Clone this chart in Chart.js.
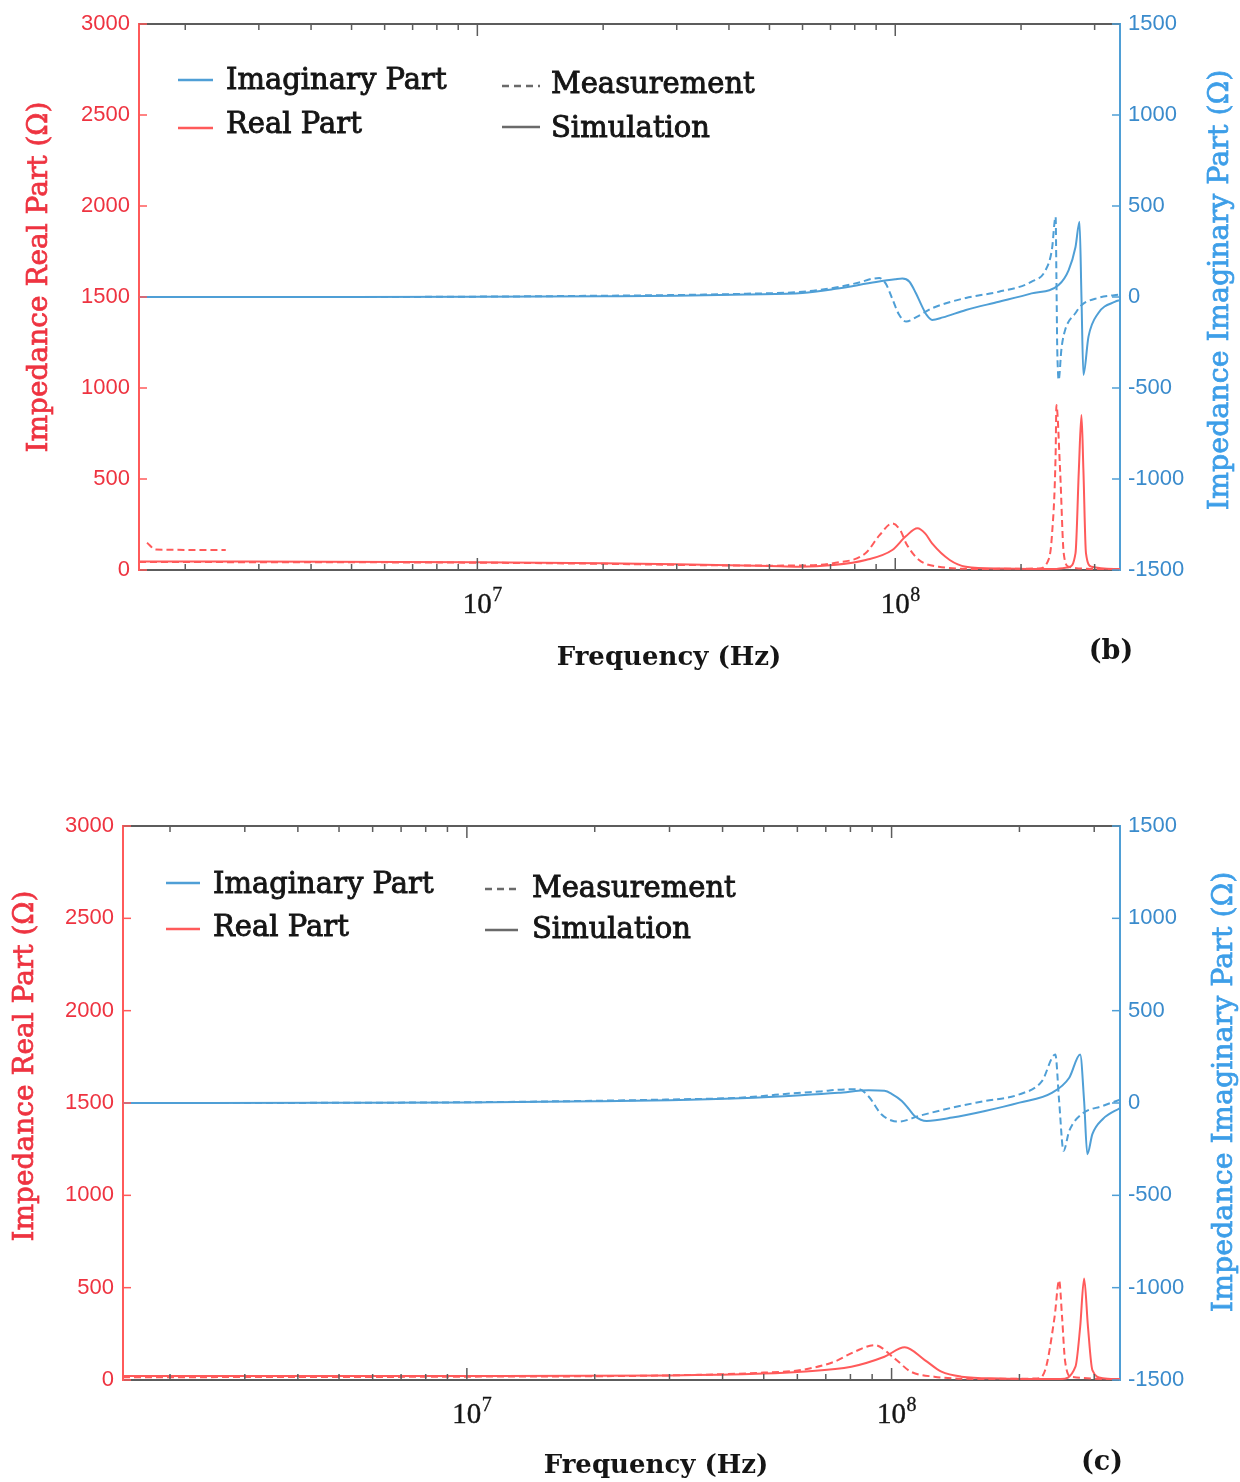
<!DOCTYPE html>
<html>
<head>
<meta charset="utf-8">
<script src="https://cdn.jsdelivr.net/npm/chart.js@4.4.1/dist/chart.umd.min.js"></script>
<style>
  html, body { margin: 0; padding: 0; background: #fff; }
  body { width: 1240px; height: 1482px; position: relative; overflow: hidden; }
  .panel { position: absolute; left: 0; }
  #panelB { top: 0; }
  #panelC { top: 800px; }
</style>
</head>
<body>
<div class="panel" id="panelB"><canvas id="chartB" width="1240" height="700"></canvas></div>
<div class="panel" id="panelC"><canvas id="chartC" width="1240" height="682"></canvas></div>
<script>
// ── Axes ──
const FREQ_MIN = 1.55e6;
const FREQ_MAX = 3.45e8;
const FREQ_TICKS = [2e6, 3e6, 4e6, 5e6, 6e6, 7e6, 8e6, 9e6, 1e7,
                    2e7, 3e7, 4e7, 5e7, 6e7, 7e7, 8e7, 9e7, 1e8, 2e8, 3e8];
const DECADES = [1e7, 1e8];
const DECADE_EXPONENTS = ['7', '8'];
const REAL_TICKS = [0, 500, 1000, 1500, 2000, 2500, 3000];
const IMAG_TICKS = [-1500, -1000, -500, 0, 500, 1000, 1500];

// ── Panel (b): [frequency Hz, ohms] ──
const bImagMeas = [[1.55e6, 0], [5e6, 0], [1e7, 2], [2e7, 7], [3e7, 11], [4.4e7, 18], [6e7, 29],
  [7.2e7, 52], [8.2e7, 80], [8.8e7, 100], [9.16e7, 104], [9.5e7, 72], [9.84e7, -10], [1.02e8, -95],
  [1.062e8, -135], [1.12e8, -112], [1.225e8, -62], [1.476e8, -5], [1.77e8, 29], [2.12e8, 84],
  [2.29e8, 148], [2.37e8, 258], [2.42e8, 441], [2.43e8, 120], [2.435e8, -60], [2.44e8, -250],
  [2.45e8, -400], [2.46e8, -456], [2.5e8, -280], [2.55e8, -181], [2.7e8, -88], [2.79e8, -45],
  [3.06e8, -5], [3.45e8, 14]];
const bImagSim = [[1.55e6, 0], [5e6, 0], [1e7, 1], [2e7, 4], [3e7, 7], [4.4e7, 14], [6e7, 22],
  [7.2e7, 45], [9e7, 82], [1e8, 97], [1.04e8, 101], [1.08e8, 85], [1.12e8, 22], [1.16e8, -53],
  [1.19e8, -100], [1.225e8, -126], [1.3e8, -112], [1.476e8, -71], [1.77e8, -26], [2.12e8, 20],
  [2.46e8, 66], [2.6e8, 148], [2.7e8, 275], [2.76e8, 414], [2.79e8, 0], [2.82e8, -428],
  [2.9e8, -218], [3.06e8, -89], [3.36e8, -26], [3.45e8, -17]];
const bRealMeas = [[1.55e6, 44], [1e7, 40], [2e7, 34], [3e7, 28], [5e7, 24], [6e7, 25], [7.1e7, 37],
  [8.5e7, 93], [9.16e7, 190], [9.84e7, 256], [1.03e8, 215], [1.062e8, 146], [1.14e8, 55],
  [1.27e8, 18], [1.6e8, 6], [2.2e8, 8], [2.33e8, 60], [2.37e8, 183], [2.42e8, 641], [2.43e8, 906],
  [2.48e8, 549], [2.53e8, 93], [2.6e8, 18], [3e8, 6], [3.45e8, 5]];
const bRealMeasLow = [[1.62e6, 150], [1.7e6, 112], [2.5e6, 110]];
const bRealSim = [[1.55e6, 47], [1e7, 43], [2e7, 37], [3e7, 32], [5e7, 22], [5.9e7, 18], [7.1e7, 27],
  [8.5e7, 55], [9.84e7, 110], [1.06e8, 185], [1.13e8, 229], [1.18e8, 200], [1.225e8, 146],
  [1.35e8, 55], [1.476e8, 18], [1.8e8, 8], [2.4e8, 5], [2.6e8, 15], [2.7e8, 93], [2.75e8, 549],
  [2.79e8, 852], [2.82e8, 549], [2.86e8, 93], [2.95e8, 18], [3.45e8, 5]];

// ── Panel (c) ──
const cImagMeas = [[1.55e6, 0], [5e6, 1], [1e7, 4], [2e7, 12], [3e7, 19], [4.4e7, 29], [6.12e7, 56],
  [6.76e7, 62], [7.5e7, 72], [8.36e7, 75], [8.83e7, 35], [9.46e7, -61], [1.0e8, -95], [1.04e8, -101],
  [1.16e8, -70], [1.39e8, -25], [1.66e8, 11], [2.0e8, 47], [2.26e8, 119], [2.43e8, 263],
  [2.48e8, 11], [2.54e8, -259], [2.62e8, -151], [2.8e8, -61], [3.14e8, -16], [3.45e8, 18]];
const cImagSim = [[1.55e6, 0], [5e6, 1], [1e7, 3], [2e7, 9], [3e7, 15], [4.4e7, 26], [6.12e7, 42],
  [7.5e7, 55], [8.83e7, 69], [9.62e7, 66], [1.0e8, 50], [1.057e8, 11], [1.1e8, -35], [1.133e8, -70],
  [1.21e8, -97], [1.39e8, -79], [1.66e8, -43], [2.0e8, 2], [2.39e8, 56], [2.62e8, 137],
  [2.78e8, 263], [2.84e8, 11], [2.89e8, -277], [2.97e8, -169], [3.14e8, -88], [3.45e8, -27]];
const cRealMeas = [[1.55e6, 15], [1e7, 18], [3e7, 25], [5e7, 40], [6.12e7, 54], [7.33e7, 99],
  [8.18e7, 153], [9.12e7, 189], [1.016e8, 117], [1.11e8, 45], [1.26e8, 18], [1.6e8, 6], [2.2e8, 8],
  [2.3e8, 54], [2.42e8, 342], [2.48e8, 540], [2.52e8, 342], [2.56e8, 108], [2.65e8, 18], [3.45e8, 5]];
const cRealSim = [[1.55e6, 22], [1e7, 22], [3e7, 25], [5e7, 35], [6.12e7, 45], [8.04e7, 72],
  [9.62e7, 126], [1.074e8, 177], [1.197e8, 108], [1.31e8, 45], [1.46e8, 18], [1.8e8, 8], [2.5e8, 5],
  [2.71e8, 72], [2.78e8, 288], [2.84e8, 550], [2.9e8, 288], [2.97e8, 54], [3.14e8, 10], [3.45e8, 5]];

// ── Styles ──
const RED = '#ff5a5a';
const RED_TEXT = '#ee3340';
const BLUE = '#4f9fd6';
const BLUE_TICK = '#3a8bcc';
const BLUE_TITLE = '#3d9ee8';
const AXIS_GRAY = '#5c5c5c';
const INK = '#151515';
const SERIF = "'DejaVu Serif', 'Liberation Serif', serif";
const TIMES = "'Liberation Serif', serif";
const SANS = "'Liberation Sans', Arial, sans-serif";
const MEAS_DASH = [7, 4];

function text(ctx, str, x, y, o) {
  ctx.save();
  ctx.translate(x, y);
  if (o.rotate) ctx.rotate(o.rotate);
  ctx.font = o.font;
  ctx.fillStyle = o.color;
  ctx.textAlign = o.align || 'center';
  ctx.textBaseline = o.baseline || 'middle';
  ctx.fillText(str, 0, 0);
  if (o.stroke) {
    ctx.strokeStyle = o.color;
    ctx.lineWidth = o.stroke;
    ctx.strokeText(str, 0, 0);
  }
  ctx.restore();
}

function seg(ctx, x0, y0, x1, y1, color, width, dash) {
  ctx.save();
  ctx.strokeStyle = color;
  ctx.lineWidth = width;
  ctx.setLineDash(dash || []);
  ctx.beginPath();
  ctx.moveTo(x0, y0);
  ctx.lineTo(x1, y1);
  ctx.stroke();
  ctx.restore();
}

// Inward tick marks, decade labels, top frame line, axis titles, legend and panel tag.
const panelDecor = {
  id: 'panelDecor',
  afterDraw(chart, args, d) {
    const { ctx, chartArea: a, scales } = chart;

    seg(ctx, a.left, a.top, a.right, a.top, AXIS_GRAY, 2);

    for (const t of scales.x.ticks) {
      const px = scales.x.getPixelForValue(t.value);
      const k = DECADES.indexOf(t.value);
      const len = k >= 0 ? 12 : 6;
      seg(ctx, px, a.bottom, px, a.bottom - len, AXIS_GRAY, 1.5);
      seg(ctx, px, a.top, px, a.top + len, AXIS_GRAY, 1.5);
      if (k >= 0) {
        // "10" centred on the tick, exponent raised to its right
        text(ctx, '10', px, a.bottom + 43, { font: `29px ${TIMES}`, color: INK, baseline: 'alphabetic', stroke: 0.4 });
        text(ctx, DECADE_EXPONENTS[k], px + 15, a.bottom + 31,
          { font: `20px ${TIMES}`, color: INK, align: 'left', baseline: 'alphabetic', stroke: 0.3 });
      }
    }
    for (const t of scales.yReal.ticks) {
      const py = scales.yReal.getPixelForValue(t.value);
      seg(ctx, a.left, py, a.left + 8, py, RED, 1.5);
    }
    for (const t of scales.yImag.ticks) {
      const py = scales.yImag.getPixelForValue(t.value);
      seg(ctx, a.right, py, a.right - 8, py, BLUE, 1.5);
    }

    text(ctx, 'Impedance Real Part (Ω)', d.leftTitle.x, d.leftTitle.y,
      { font: `28px ${SERIF}`, color: RED_TEXT, rotate: -Math.PI / 2, stroke: 0.7 });
    text(ctx, 'Impedance Imaginary Part (Ω)', d.rightTitle.x, d.rightTitle.y,
      { font: `28.5px ${SERIF}`, color: BLUE_TITLE, rotate: -Math.PI / 2, stroke: 0.7 });
    text(ctx, 'Frequency (Hz)', d.xTitle.x, d.xTitle.y,
      { font: `bold 26px ${SERIF}`, color: INK });
    text(ctx, d.tag.text, d.tag.x, d.tag.y, { font: `bold 27px ${SERIF}`, color: INK });

    const L = d.legend;
    const rows = [
      { label: 'Imaginary Part', color: BLUE, dash: [], col: L.left, ...L.rows[0] },
      { label: 'Real Part', color: RED, dash: [], col: L.left, ...L.rows[1] },
      { label: 'Measurement', color: '#6a6a6a', dash: [7, 5], col: L.right, ...L.rows[2] },
      { label: 'Simulation', color: '#6a6a6a', dash: [], col: L.right, ...L.rows[3] },
    ];
    for (const r of rows) {
      seg(ctx, r.col.x0, r.line, r.col.x1, r.line, r.color, 2.5, r.dash);
      text(ctx, r.label, r.col.text, r.base,
        { font: `29px ${SERIF}`, color: INK, align: 'left', baseline: 'alphabetic', stroke: 0.9 });
    }
  },
};

function series(points, axis, measured) {
  return {
    data: points.map(([x, y]) => ({ x, y })),
    yAxisID: axis,
    borderColor: axis === 'yImag' ? BLUE : RED,
    borderDash: measured ? MEAS_DASH : [],
    borderWidth: 2,
    pointRadius: 0,
    cubicInterpolationMode: 'monotone',
    fill: false,
  };
}

function makePanel(canvasId, datasets, box, decor) {
  return new Chart(document.getElementById(canvasId), {
    type: 'line',
    data: { datasets },
    options: {
      responsive: false,
      devicePixelRatio: 1,
      animation: false,
      events: [],
      layout: { padding: { top: box.top, left: 0, right: 0, bottom: 0 } },
      plugins: { legend: { display: false }, tooltip: { enabled: false }, panelDecor: decor },
      scales: {
        x: {
          type: 'logarithmic',
          min: FREQ_MIN,
          max: FREQ_MAX,
          afterBuildTicks: (s) => { s.ticks = FREQ_TICKS.map((v) => ({ value: v })); },
          afterFit: (s) => { s.height = box.bottom; },
          ticks: { display: false, autoSkip: false },
          grid: { display: false, drawTicks: false },
          border: { color: AXIS_GRAY, width: 2 },
        },
        yReal: {
          position: 'left',
          min: 0,
          max: 3000,
          afterBuildTicks: (s) => { s.ticks = REAL_TICKS.map((v) => ({ value: v })); },
          afterFit: (s) => { s.width = box.left; },
          ticks: { color: RED_TEXT, padding: 9, font: { family: SANS, size: 22 }, callback: (v) => String(v) },
          grid: { display: false, drawTicks: false },
          border: { color: RED, width: 2 },
        },
        yImag: {
          position: 'right',
          min: -1500,
          max: 1500,
          afterBuildTicks: (s) => { s.ticks = IMAG_TICKS.map((v) => ({ value: v })); },
          afterFit: (s) => { s.width = box.right; },
          ticks: { color: BLUE_TICK, padding: 8, font: { family: SANS, size: 22 }, callback: (v) => String(v) },
          grid: { display: false, drawTicks: false },
          border: { color: BLUE, width: 2 },
        },
      },
    },
    plugins: [panelDecor],
  });
}

makePanel('chartB', [
  series(bImagMeas, 'yImag', true),
  series(bImagSim, 'yImag', false),
  series(bRealMeas, 'yReal', true),
  series(bRealMeasLow, 'yReal', true),
  series(bRealSim, 'yReal', false),
], { top: 24, left: 139, right: 120, bottom: 130 }, {
  leftTitle: { x: 40, y: 277 },
  rightTitle: { x: 1221, y: 290 },
  xTitle: { x: 669, y: 658 },
  tag: { text: '(b)', x: 1111, y: 652 },
  legend: {
    left: { x0: 178, x1: 213, text: 226 },
    right: { x0: 502, x1: 540, text: 551 },
    rows: [{ line: 80, base: 89 }, { line: 128, base: 133 }, { line: 86, base: 93 }, { line: 127, base: 137 }],
  },
});

makePanel('chartC', [
  series(cImagMeas, 'yImag', true),
  series(cImagSim, 'yImag', false),
  series(cRealMeas, 'yReal', true),
  series(cRealSim, 'yReal', false),
], { top: 26, left: 123, right: 120, bottom: 102 }, {
  leftTitle: { x: 26, y: 266 },
  rightTitle: { x: 1225, y: 292 },
  xTitle: { x: 656, y: 666 },
  tag: { text: '(c)', x: 1102, y: 663 },
  legend: {
    left: { x0: 166, x1: 200, text: 213 },
    right: { x0: 485, x1: 518, text: 532 },
    rows: [{ line: 83, base: 93 }, { line: 129, base: 136 }, { line: 89, base: 97 }, { line: 130, base: 138 }],
  },
});
</script>
</body>
</html>
